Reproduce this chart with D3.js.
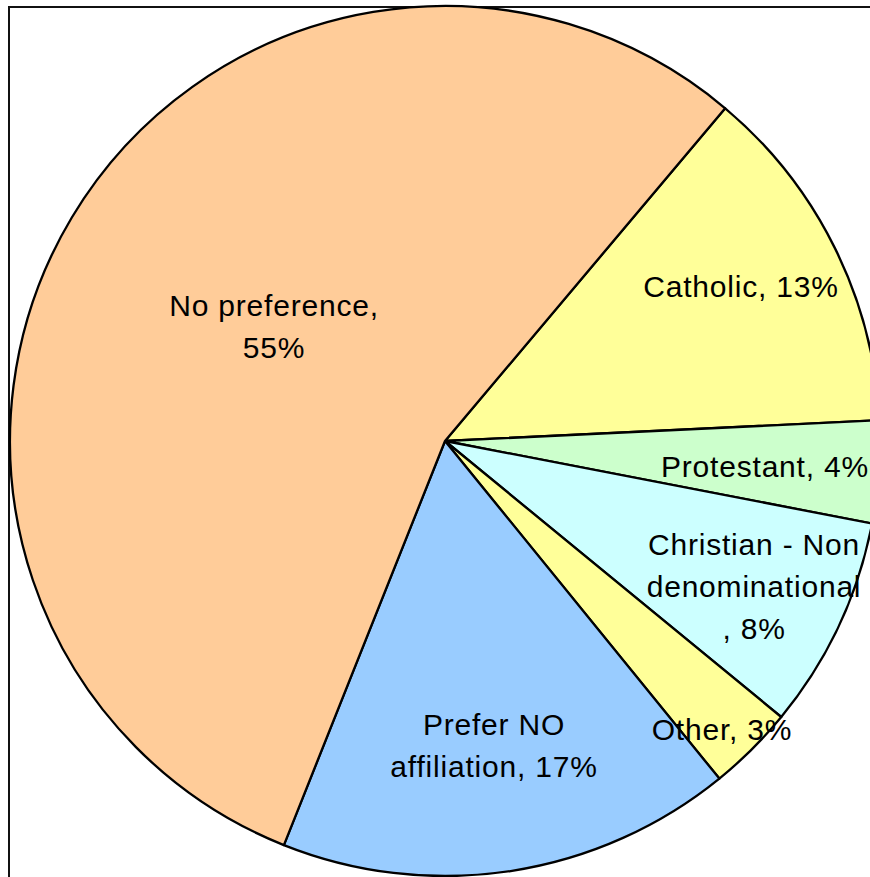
<!DOCTYPE html>
<html>
<head>
<meta charset="utf-8">
<script src="https://cdn.jsdelivr.net/npm/d3@7"></script>
<style>
  html, body { margin: 0; padding: 0; background: #fff; overflow: hidden; }
  svg { display: block; }
  text { font-family: "Liberation Sans", Arial, sans-serif; fill: #000; }
</style>
</head>
<body>
<div id="chart"></div>
<script>
// slices in clockwise order, starting at the top-right
var categories = ['Catholic', 'Protestant', 'Christian - Non denominational', 'Other', 'Prefer NO affiliation', 'No preference'];
var values = [13.1, 3.8, 7.9, 3.2, 16.9, 55.1];
var percentLabels = ['13%', '4%', '8%', '3%', '17%', '55%'];
// label text split into lines, as in the original
var labelLines = [
  ['Catholic, 13%'],
  ['Protestant, 4%'],
  ['Christian - Non', 'denominational', ', 8%'],
  ['Other, 3%'],
  ['Prefer NO', 'affiliation, 17%'],
  ['No preference,', '55%']
];
var colors = ['#ffff99', '#ccffcc', '#ccffff', '#ffff99', '#99ccff', '#ffcc99'];

var width = 870, height = 877;
var cx = 445, cy = 441, radius = 435;
var startDeg = 40.1;

// label anchors (offset from pie centre, first baseline)
var labelPos = [
  [296, -144], [320, 36], [309, 114], [277, 299], [49, 294], [-171, -125]
];
var lineHeight = 42;

var svg = d3.select('#chart')
  .append('svg')
  .attr('width', width)
  .attr('height', height);

// plot area frame (runs off the right and bottom edges)
svg.append('rect')
  .attr('x', 9)
  .attr('y', 7)
  .attr('width', width + 20)
  .attr('height', height + 20)
  .attr('fill', 'none')
  .attr('stroke', '#111')
  .attr('stroke-width', 2);

var pie = d3.pie()
  .sort(null)
  .value(function(d){ return d; })
  .startAngle(startDeg * Math.PI / 180)
  .endAngle(startDeg * Math.PI / 180 + 2 * Math.PI);

var arc = d3.arc().innerRadius(0).outerRadius(radius);

var g = svg.append('g').attr('transform', 'translate(' + cx + ',' + cy + ')');

g.selectAll('path')
  .data(pie(values))
  .enter().append('path')
  .attr('d', arc)
  .attr('fill', function(d, i){ return colors[i]; })
  .attr('stroke', '#000')
  .attr('stroke-width', 2.3)
  .attr('stroke-linejoin', 'round');

// labels
var labels = g.selectAll('text.lbl')
  .data(labelLines)
  .enter().append('text')
  .attr('class', 'lbl')
  .attr('text-anchor', 'middle')
  .attr('font-size', 30)
  .attr('letter-spacing', 0.8)
  .attr('x', function(d, i){ return labelPos[i][0]; })
  .attr('y', function(d, i){ return labelPos[i][1]; });

labels.each(function(lines, i) {
  var t = d3.select(this);
  lines.forEach(function(line, k) {
    t.append('tspan')
      .attr('x', labelPos[i][0])
      .attr('dy', k === 0 ? 0 : lineHeight)
      .text(line);
  });
});
</script>
</body>
</html>
